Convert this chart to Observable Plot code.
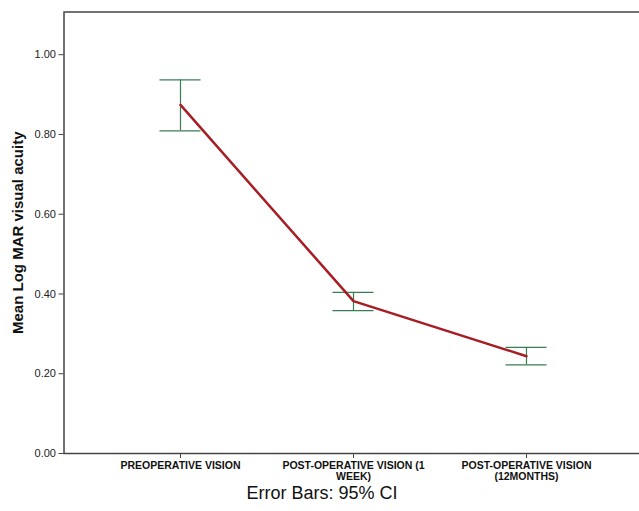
<!DOCTYPE html>
<html><head><meta charset="utf-8">
<script src="https://cdn.jsdelivr.net/npm/d3@7"></script>
<script src="https://cdn.jsdelivr.net/npm/@observablehq/plot@0.6"></script>
<style>
html,body{margin:0;padding:0;background:#fff;overflow:hidden;font-family:"Liberation Sans",Arial,sans-serif}
#chart svg{display:block}
#cap{position:relative;margin-top:-2px;width:639px;height:20px;line-height:16px;font-size:18px;text-align:center;padding-left:5px;box-sizing:border-box;color:#111}
</style>
</head><body><div id="chart"></div><div id="cap">Error Bars: 95% CI</div>
<script>
const categories = ["PREOPERATIVE VISION", "POST-OPERATIVE VISION (1 WEEK)", "POST-OPERATIVE VISION (12MONTHS)"];
const tickLabels = ["PREOPERATIVE VISION", "POST-OPERATIVE VISION (1\nWEEK)", "POST-OPERATIVE VISION\n(12MONTHS)"];
const means = [0.874, 0.382, 0.244];
const lower = [0.809, 0.358, 0.222];
const upper = [0.937, 0.404, 0.266];
const yTicks = [0, 0.2, 0.4, 0.6, 0.8, 1.0];
const yLabel = "Mean Log MAR visual acuity";

const red = "#a81c24";
const green = "#3a7d55";
const data = categories.map((c, i) => ({cat: c, mean: means[i], lo: lower[i], hi: upper[i]}));

const plot = Plot.plot({
  width: 639, height: 487,
  marginTop: 11.5, marginBottom: 34, marginLeft: 63.5, marginRight: -3,
  style: {fontFamily: '"Liberation Sans", Arial, sans-serif', background: "white", color: "#222"},
  x: {type: "point", domain: categories, padding: 0.669, label: null},
  y: {domain: [0, 1.107], label: null},
  marks: [
    Plot.frame({stroke: "#444", strokeWidth: 1.5}),
    Plot.axisY({ticks: yTicks, tickFormat: d => d.toFixed(2), tickSize: 5, tickPadding: 3, fontSize: 11, label: null, stroke: "#444"}),
    Plot.axisX({tickFormat: d => tickLabels[categories.indexOf(d)], tickSize: 5, tickPadding: 3, fontSize: 10.5, fontWeight: "bold", label: null, stroke: "#444", lineHeight: 1.05, fill: "#111"}),
    Plot.text([yLabel], {frameAnchor: "left", textAnchor: "middle", rotate: -90, dx: -46, fontSize: 15, fontWeight: "bold", fill: "#111"}),
    Plot.ruleX(data, {x: "cat", y1: "lo", y2: "hi", stroke: green, strokeWidth: 1.2}),
    Plot.ruleY(data, {x1: "cat", x2: "cat", y: "hi", insetLeft: -20.5, insetRight: -20.5, stroke: green, strokeWidth: 1.2}),
    Plot.ruleY(data, {x1: "cat", x2: "cat", y: "lo", insetLeft: -20.5, insetRight: -20.5, stroke: green, strokeWidth: 1.2}),
    Plot.line(data, {x: "cat", y: "mean", stroke: red, strokeWidth: 2.5})
  ]
});
document.getElementById("chart").appendChild(plot);
</script>
</body></html>
